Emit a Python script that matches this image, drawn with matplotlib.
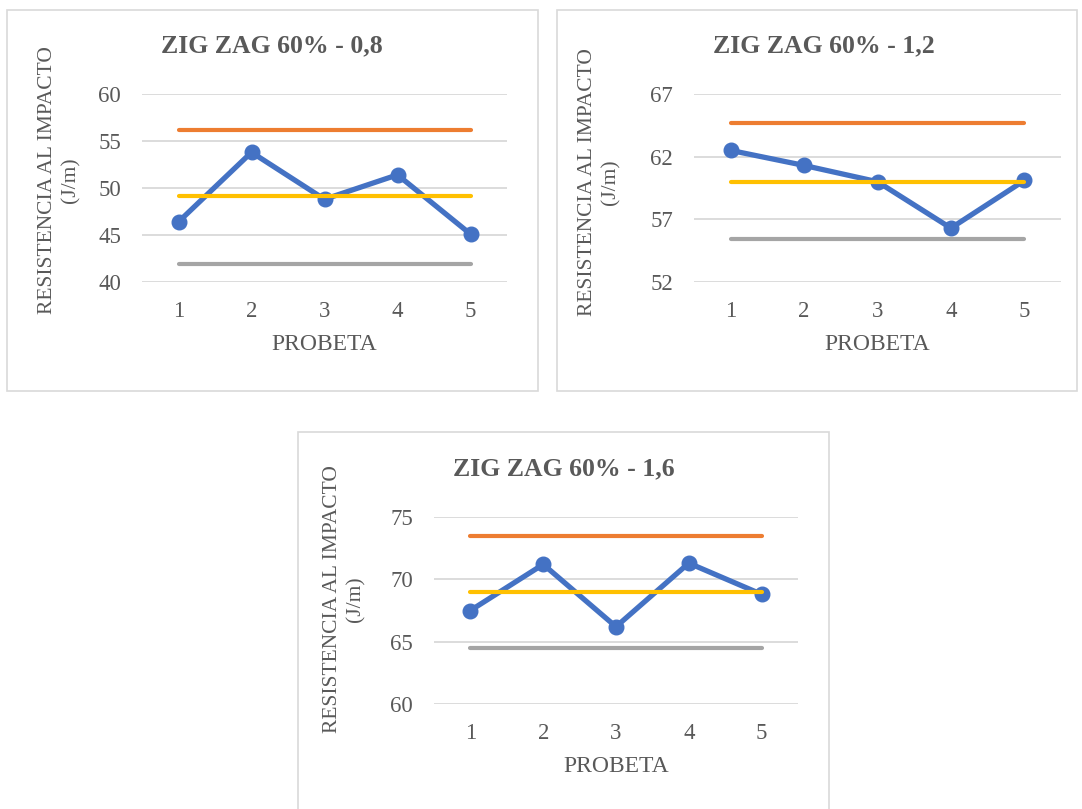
import matplotlib
matplotlib.use("Agg")
import matplotlib.pyplot as plt
from matplotlib.patches import Rectangle

# Impact resistance per specimen, zig-zag infill 60 %, three layer heights
probeta = [1, 2, 3, 4, 5]
titles = ["ZIG ZAG 60% - 0,8", "ZIG ZAG 60% - 1,2", "ZIG ZAG 60% - 1,6"]
resistencia = [
    [46.4, 53.8, 48.8, 51.4, 45.1],
    [62.5, 61.3, 60.0, 56.3, 60.1],
    [67.5, 71.2, 66.2, 71.3, 68.8],
]
limite_superior = [56.2, 64.7, 73.5]
promedio = [49.1, 60.0, 69.0]
limite_inferior = [41.9, 55.4, 64.5]
y_ticks = [
    [40, 45, 50, 55, 60],
    [52, 57, 62, 67],
    [60, 65, 70, 75],
]

W, H = 1082, 809
fig = plt.figure(figsize=(W / 100, H / 100), dpi=100)
fig.patch.set_facecolor("white")

TEXT = "#595959"
SERIF = "Liberation Serif"
BLUE, ORANGE, YELLOW, GRAY = "#4472C4", "#ED7D31", "#FFC000", "#A5A5A5"

# layout in pixels: chart frame, plot area, title centre, y-label centre
layouts = [
    dict(frame=(7, 10, 538, 391), plot=(142, 94, 507, 282), title=(272, 46), ylab=(59, 180)),
    dict(frame=(557, 10, 1077, 391), plot=(694, 94, 1061, 282), title=(824, 46), ylab=(599, 182)),
    dict(frame=(298, 432, 829, 812), plot=(434, 517, 798, 704), title=(564, 469), ylab=(344, 599)),
]


def fx(px):
    return px / W


def fy(py):
    return 1 - py / H


for i, lay in enumerate(layouts):
    x0, y0, x1, y1 = lay["frame"]
    fig.patches.append(Rectangle((fx(x0), fy(y1)), fx(x1 - x0), (y1 - y0) / H,
                                 transform=fig.transFigure, fill=False,
                                 edgecolor="#d9d9d9", linewidth=1.2))

    px0, py0, px1, py1 = lay["plot"]
    ax = fig.add_axes([fx(px0), fy(py1), fx(px1 - px0), (py1 - py0) / H])
    ax.set_facecolor("none")

    ax.plot(probeta, resistencia[i], color=BLUE, linewidth=3.8, marker="o",
            markersize=10.5, solid_capstyle="round", solid_joinstyle="round", zorder=3)
    for val, col in ((limite_superior[i], ORANGE), (limite_inferior[i], GRAY),
                     (promedio[i], YELLOW)):
        ax.plot(probeta, [val] * len(probeta), color=col, linewidth=3.0,
                solid_capstyle="round", zorder=4)

    ax.set_xlim(0.5, 5.5)
    ax.set_ylim(y_ticks[i][0], y_ticks[i][-1])
    ax.set_xticks(probeta)
    ax.set_yticks(y_ticks[i])
    ax.grid(axis="y", color="#d9d9d9", linewidth=1.3, zorder=0)
    ax.set_axisbelow(True)
    for s in ax.spines.values():
        s.set_visible(False)
    ax.tick_params(length=0, labelsize=16.5, labelcolor=TEXT)
    ax.tick_params(axis="y", pad=15)
    ax.tick_params(axis="x", pad=14)
    for lbl in ax.get_xticklabels() + ax.get_yticklabels():
        lbl.set_fontfamily(SERIF)

    ax.set_xlabel("PROBETA", fontsize=17, color=TEXT, fontfamily=SERIF, labelpad=8)

    tx, ty = lay["title"]
    fig.text(fx(tx), fy(ty), titles[i], ha="center", va="center", fontsize=18.5,
             fontweight="bold", color=TEXT, fontfamily=SERIF)

    lx, ly = lay["ylab"]
    fig.text(fx(lx), fy(ly), "RESISTENCIA AL IMPACTO\n(J/m)", rotation=90,
             ha="center", va="center", multialignment="center", fontsize=15.5,
             color=TEXT, fontfamily=SERIF, linespacing=1.3)

fig.savefig("out.png", dpi=100, facecolor="white")
